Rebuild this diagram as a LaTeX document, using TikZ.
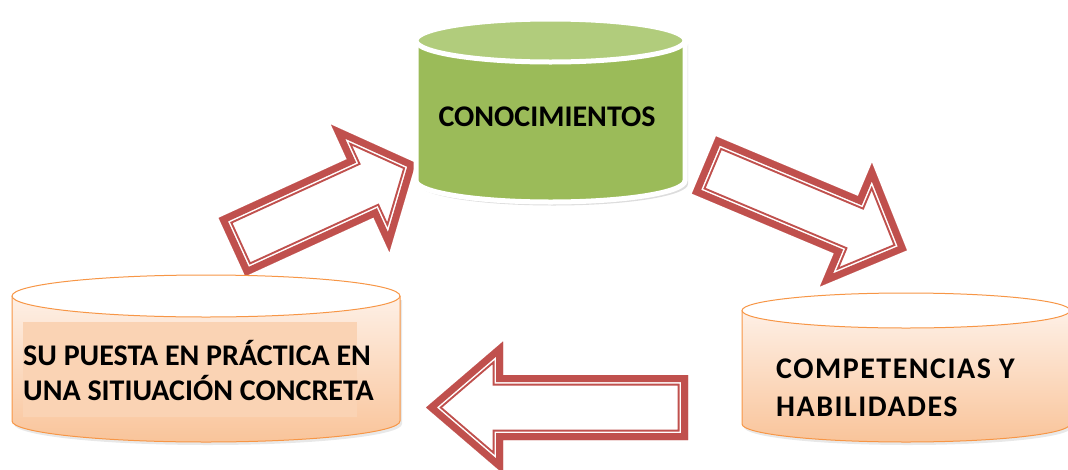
\documentclass[tikz,border=0pt]{standalone}
\usepackage{fontspec}
\setmainfont{Carlito}
\definecolor{arrowred}{HTML}{C0504D}
\definecolor{cgreen}{HTML}{9BBB59}
\definecolor{cgreentop}{HTML}{B1CC7C}
\definecolor{corange}{HTML}{F79646}
\definecolor{peachtop}{HTML}{FEF0E6}
\definecolor{peachbot}{HTML}{F9C49A}
\definecolor{peachhl}{HTML}{FAD3B4}
\newcommand\hollowarrow[7]{%
  \begin{scope}[shift={(#1,#2)},rotate=#3]
    \begin{scope}
      \clip (0,-#5) -- (#7,-#5) -- (#7,-#6) -- (#4,0) -- (#7,#6) -- (#7,#5) -- (0,#5) -- cycle;
      \fill[white] (0,-#5) -- (#7,-#5) -- (#7,-#6) -- (#4,0) -- (#7,#6) -- (#7,#5) -- (0,#5) -- cycle;
      \draw[arrowline,line width=21pt] (0,-#5) -- (#7,-#5) -- (#7,-#6) -- (#4,0) -- (#7,#6) -- (#7,#5) -- (0,#5) -- cycle;
      \draw[white,line join=miter,miter limit=20,line width=17pt] (0,-#5) -- (#7,-#5) -- (#7,-#6) -- (#4,0) -- (#7,#6) -- (#7,#5) -- (0,#5) -- cycle;
      \draw[arrowline,line width=14pt] (0,-#5) -- (#7,-#5) -- (#7,-#6) -- (#4,0) -- (#7,#6) -- (#7,#5) -- (0,#5) -- cycle;
    \end{scope}
  \end{scope}}
\begin{document}
\begin{tikzpicture}[x=1pt,y=-1pt,
  arrowline/.style={draw=arrowred,line join=miter,miter limit=20},
  label/.style={font=\fontsize{30}{36}\selectfont\bfseries,inner sep=0pt,text=black},
  widelabel/.style={label,font=\fontsize{30}{36}\selectfont\bfseries\addfontfeature{LetterSpace=5}},
  orangeedge/.style={draw=corange,line width=1pt}]
\useasboundingbox (0,0) rectangle (1068,469);
% ---- arrows ----
\hollowarrow{232}{247}{24.6}{202}{32}{70}{141}
\hollowarrow{704}{165}{-22.8}{220}{31}{67}{154}
\hollowarrow{688}{407.5}{180}{262}{32.5}{66}{185}
% ---- green cylinder ----
\coordinate (gc) at (550.5,40.5);
\fill[gray!45,opacity=0.6] (419,44) -- (419,184) arc[start angle=180,end angle=0,x radius=134.5,y radius=21.5] -- (688,44) arc[start angle=0,end angle=180,x radius=134.5,y radius=21.5] -- cycle;
\filldraw[fill=cgreen,draw=white,line width=5pt] (416,40.5) -- (416,180.5) arc[start angle=180,end angle=0,x radius=134.5,y radius=21.5] -- (685,40.5) -- cycle;
\filldraw[fill=cgreentop,draw=white,line width=5pt] (gc) ellipse[x radius=134.5,y radius=21.5];
\node[label,anchor=base] (k) at (547,126) {CONOCIMIENTOS};
% ---- left cylinder ----
\coordinate (lc) at (206,296);
\fill[gray!35,opacity=0.5] (14,300) -- (14,424) arc[start angle=180,end angle=0,x radius=194,y radius=21] -- (402,300) -- cycle;
\shade[top color=peachtop,bottom color=peachbot] (12,296) -- (12,421) arc[start angle=180,end angle=0,x radius=194,y radius=21] -- (400,296) -- cycle;
\draw[orangeedge] (12,296) -- (12,421) arc[start angle=180,end angle=0,x radius=194,y radius=21] -- (400,296);
\filldraw[fill=white,orangeedge] (lc) ellipse[x radius=194,y radius=21];
\fill[peachhl] (23,322) rectangle (357,417);
\node[label,anchor=base west] (p1) at (23,365) {SU PUESTA EN PRÁCTICA EN};
\node[label,anchor=base west] (p2) at (23,400.7) {UNA SITIUACIÓN CONCRETA};
% ---- right cylinder ----
\coordinate (rc) at (906,310.5);
\fill[gray!35,opacity=0.5] (744,314) -- (744,427) arc[start angle=180,end angle=0,x radius=164,y radius=18] -- (1072,314) -- cycle;
\shade[top color=peachtop,bottom color=peachbot] (742,310.5) -- (742,424) arc[start angle=180,end angle=0,x radius=164,y radius=18] -- (1070,310.5) -- cycle;
\draw[orangeedge] (742,310.5) -- (742,424) arc[start angle=180,end angle=0,x radius=164,y radius=18] -- (1070,310.5);
\filldraw[fill=white,orangeedge] (rc) ellipse[x radius=164,y radius=17.5];
\node[widelabel,anchor=base west] (c1) at (776,378.3) {COMPETENCIAS Y};
\node[widelabel,anchor=base west] (c2) at (776,416) {HABILIDADES};
\end{tikzpicture}
\end{document}
